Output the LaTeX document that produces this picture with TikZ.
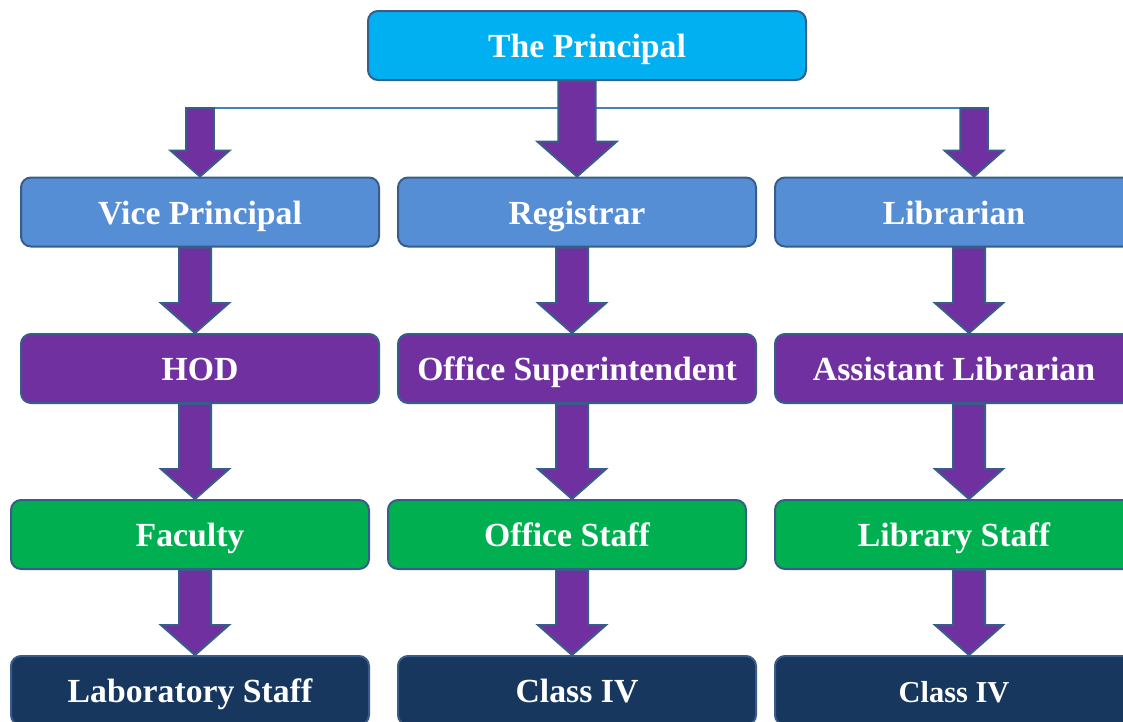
\documentclass[tikz,border=0pt]{standalone}
\usepackage{fontspec}
\setmainfont{Liberation Serif}
\usetikzlibrary{calc,backgrounds}

\definecolor{topblue}{HTML}{00B0F0}
\definecolor{midblue}{HTML}{558ED5}
\definecolor{staffpurple}{HTML}{7030A0}
\definecolor{staffgreen}{HTML}{00B050}
\definecolor{staffnavy}{HTML}{17375E}
\definecolor{edgeblue}{HTML}{385D8A}
\definecolor{busblue}{HTML}{4A7EBB}

% block arrow: [size]{start}{x shift}{target node}
\newcommand{\fatarrow}[4][1]{%
  \draw[fat] let \p1=($(#2)+(#3,0)$), \p2=(#4.north) in
    (\x1-#1*12pt,\y1) -- (\x1-#1*12pt,\y2+#1*22.5pt) -- (\x1-#1*25.5pt,\y2+#1*22.5pt)
    -- (\x1,\y2) -- (\x1+#1*25.5pt,\y2+#1*22.5pt) -- (\x1+#1*12pt,\y2+#1*22.5pt)
    -- (\x1+#1*12pt,\y1) -- cycle;}

\begin{document}
\begin{tikzpicture}[x=0.75pt,y=-0.75pt]
\tikzstyle{every node}+=[inner sep=0pt]
\tikzstyle{box}=[draw=edgeblue, line width=1.5pt, rounded corners=7.5pt,
  minimum width=268.5pt, minimum height=51.75pt, text=white,
  text height=18.5pt, text depth=0pt,
  font=\fontsize{25.3}{29}\selectfont\bfseries]
\tikzstyle{fat}=[draw=edgeblue, fill=staffpurple, line width=1.5pt]
\useasboundingbox (0,0) rectangle (1123,721);
% head
\node [box, fill=topblue, minimum width=328.5pt] (prin) at (587,45.5) {The Principal};
% second row
\node [box, fill=midblue] (vp) at (200,212) {Vice Principal};
\node [box, fill=midblue] (reg) at (577,212) {Registrar};
\node [box, fill=midblue] (lib) at (954,212) {Librarian};
% third row
\node [box, fill=staffpurple] (hod) at (200,368.5) {HOD};
\node [box, fill=staffpurple] (osup) at (577,368.5) {Office Superintendent};
\node [box, fill=staffpurple] (alib) at (954,368.5) {Assistant Librarian};
% fourth row
\node [box, fill=staffgreen] (fac) at (190,534.5) {Faculty};
\node [box, fill=staffgreen] (ostaff) at (567,534.5) {Office Staff};
\node [box, fill=staffgreen] (lstaff) at (954,534.5) {Library Staff};
% bottom row
\node [box, fill=staffnavy] (lab) at (190,690.5) {Laboratory Staff};
\node [box, fill=staffnavy] (cfour) at (577,690.5) {Class IV};
\node [box, fill=staffnavy, font=\fontsize{22.8}{27}\selectfont\bfseries] (cfourb) at (954,690.5) {Class IV};
\coordinate (busL) at (200,108);
\coordinate (busR) at (974,108);
\begin{scope}[on background layer]
\draw [busblue, line width=0.9pt] (busL) -- (busR);
\fatarrow[1.16]{prin.south}{-10}{reg}
\fatarrow[0.86]{busL}{0}{vp}
\fatarrow[0.86]{busR}{0}{lib}
\fatarrow{vp.south}{-5}{hod}
\fatarrow{hod.south}{-5}{fac}
\fatarrow{fac.south}{5}{lab}
\fatarrow{reg.south}{-5}{osup}
\fatarrow{osup.south}{-5}{ostaff}
\fatarrow{ostaff.south}{5}{cfour}
\fatarrow{lib.south}{15}{alib}
\fatarrow{alib.south}{15}{lstaff}
\fatarrow{lstaff.south}{15}{cfourb}
\end{scope}
\end{tikzpicture}
\end{document}
